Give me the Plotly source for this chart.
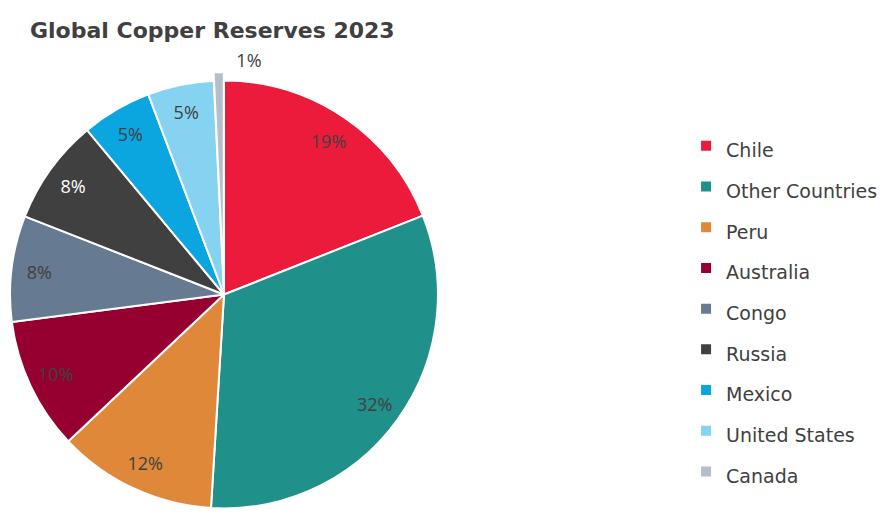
import plotly.graph_objects as go

countries = ["Chile", "Other Countries", "Peru", "Australia", "Congo",
             "Russia", "Mexico", "United States", "Canada"]
reserves = [190, 320, 120, 100, 80, 80, 53, 50, 7.6]  # million tonnes
colors = ["#ED1B3B", "#20908B", "#E0883A", "#960030", "#667A91",
          "#404040", "#0BA5E0", "#86D3F1", "#B6BFC9"]
label_colors = ["#404040"] * 5 + ["#FFFFFF"] + ["#404040"] * 3
inside_pos = ["inside"] * 8 + ["none"]
outside_pos = ["none"] * 8 + ["outside"]
pulls = [0] * 8 + [0.04]

FONT = "Open Sans"
TFONT = "DejaVu Sans"
DOMAIN = dict(x=[1.5 / 891, 446.5 / 891], y=[0, 445 / 517])
legend_labels = ["<span style='font-size:19px'>%s</span>" % c for c in countries]
clear = ["rgba(0,0,0,0)"] * len(countries)

# base pie: slices + legend
base = go.Pie(
    labels=legend_labels,
    values=reserves,
    sort=False,
    direction="clockwise",
    rotation=0,
    pull=pulls,
    marker=dict(colors=colors, line=dict(color="white", width=2)),
    textinfo="none",
    hoverinfo="label+percent",
    domain=DOMAIN,
)

# transparent ring overlay used only to place percentage labels near the rim
ring = go.Pie(
    labels=countries,
    values=reserves,
    sort=False,
    direction="clockwise",
    rotation=0,
    pull=pulls,
    hole=0.74,
    marker=dict(colors=clear, line=dict(width=0)),
    texttemplate="%{percent:.0%}",
    textposition=inside_pos,
    insidetextorientation="horizontal",
    textfont=dict(family=FONT, size=18, color=label_colors),
    showlegend=False,
    hoverinfo="skip",
    domain=DOMAIN,
)

# transparent overlay for the small outside label (placed right of the sliver)
outer = go.Pie(
    labels=countries,
    values=reserves,
    sort=False,
    direction="clockwise",
    rotation=3,
    pull=pulls,
    marker=dict(colors=clear, line=dict(width=0)),
    texttemplate="%{percent:.0%}",
    textposition=outside_pos,
    outsidetextfont=dict(family=FONT, size=18, color="#404040"),
    showlegend=False,
    hoverinfo="skip",
    domain=DOMAIN,
)

fig = go.Figure([base, ring, outer])

fig.update_layout(
    width=891, height=517,
    margin=dict(l=0, r=0, t=0, b=0, autoexpand=False),
    paper_bgcolor="white",
    font=dict(family=FONT, color="#404040"),
    title=dict(text="<b>Global Copper Reserves 2023</b>",
               x=30 / 891, xanchor="left", xref="paper",
               y=1 - 30 / 517, yanchor="middle", yref="container",
               font=dict(family=TFONT, size=22, color="#404040")),
    legend=dict(x=0.77, xanchor="left", y=0.4023, yanchor="middle",
                font=dict(family=TFONT, size=29, color="#404040")),
)

fig.write_html("out.html")
